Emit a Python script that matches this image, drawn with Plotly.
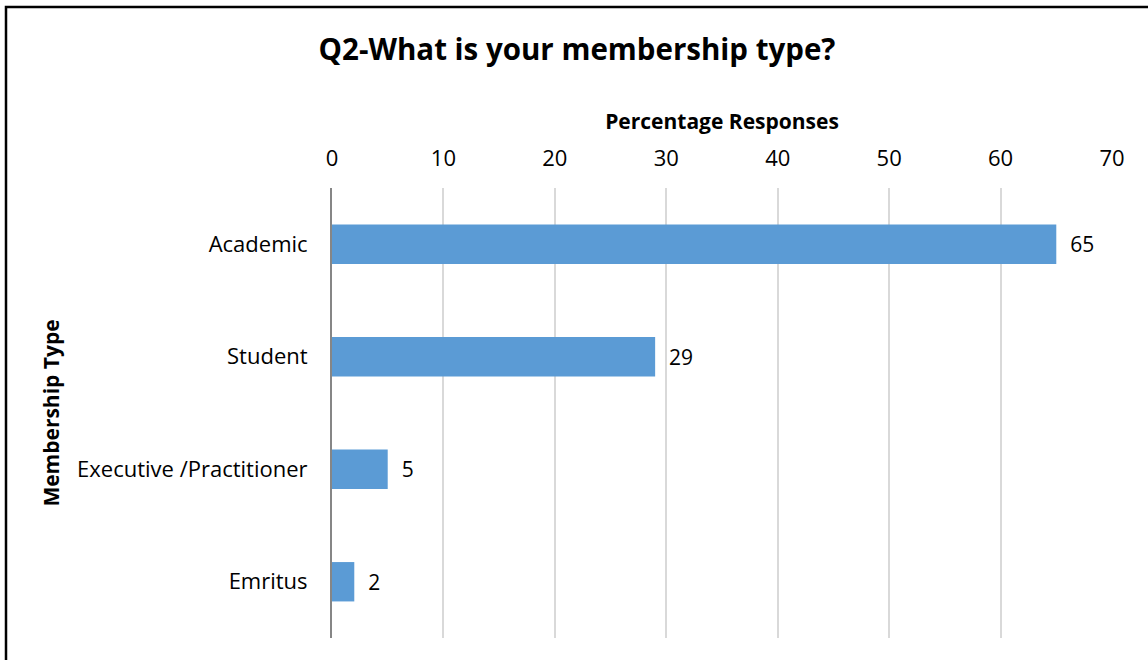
import plotly.graph_objects as go

# Survey results: share of respondents by membership type
categories = ["Academic", "Student", "Executive /Practitioner", "Emritus"]
percentages = [65, 29, 5, 2]
x_ticks = [0, 10, 20, 30, 40, 50, 60, 70]

W, H = 1148, 660
ML, MR, MT, MB = 332, 36, 188, 22
PW, PH = W - ML - MR, H - MT - MB

FONT = "Open Sans, sans-serif"
BAR_COLOR = "#5B9BD5"

fig = go.Figure(
    go.Bar(
        x=percentages,
        y=categories,
        orientation="h",
        marker=dict(color=BAR_COLOR, line=dict(width=0)),
        text=[f"{v}" for v in percentages],
        texttemplate="  %{text}",
        textposition="outside",
        textfont=dict(family=FONT, size=21, color="#000000"),
        cliponaxis=False,
    )
)

# convert pixel positions to paper coordinates for the chart frame
def px_x(px):
    return (px - ML) / PW

def px_y(py):
    return (H - MB - py) / PH

# frame: only its left and top edges fall inside the page
fig.add_shape(type="rect", xref="paper", yref="paper", layer="below",
              x0=px_x(6), x1=px_x(W + 20), y0=px_y(H + 20), y1=px_y(7),
              line=dict(color="#000000", width=2.5), fillcolor="rgba(0,0,0,0)")

fig.update_layout(
    width=W,
    height=H,
    margin=dict(l=ML, r=MR, t=MT, b=MB, pad=0),
    paper_bgcolor="#ffffff",
    plot_bgcolor="#ffffff",
    showlegend=False,
    bargap=0.65,
    font=dict(family=FONT, size=21, color="#000000"),
    title=dict(
        text="<b>Q2-What is your membership type?</b>",
        font=dict(family=FONT, size=29.5, color="#000000"),
        x=577 / W,
        xanchor="center",
        xref="container",
        y=1 - 50 / H,
        yanchor="middle",
        yref="container",
    ),
    xaxis=dict(
        side="top",
        range=[0, 70],
        tickvals=x_ticks,
        ticktext=[str(t) for t in x_ticks],
        showgrid=True,
        gridcolor="#D9D9D9",
        gridwidth=2,
        zeroline=False,
        showline=False,
        ticks="",
        ticklabelstandoff=17,
        tickfont=dict(family=FONT, size=22),
        title=dict(
            text="<b>Percentage Responses</b>",
            font=dict(family=FONT, size=21),
            standoff=6,
        ),
        fixedrange=True,
    ),
    yaxis=dict(
        categoryorder="array",
        categoryarray=categories[::-1],
        showline=True,
        linecolor="#868686",
        linewidth=2,
        showgrid=False,
        zeroline=False,
        ticks="",
        ticklabelstandoff=18,
        tickfont=dict(family=FONT, size=22),
        title=dict(
            text="<b>Membership Type</b>",
            font=dict(family=FONT, size=21),
            standoff=12,
        ),
        fixedrange=True,
    ),
)

fig.write_html("out.html")
